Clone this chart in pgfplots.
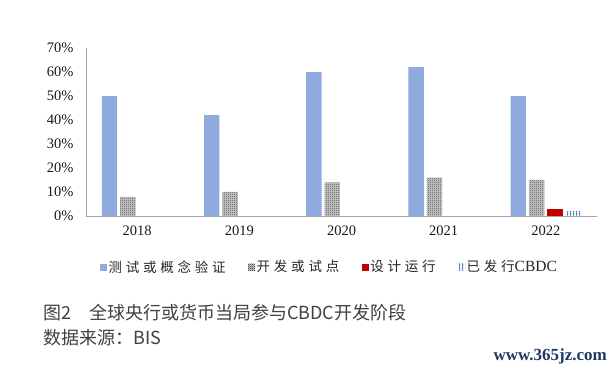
\documentclass[border=0pt]{standalone}
\usepackage{fontspec}
\setmainfont{Liberation Serif}
\newfontfamily\cjk{Noto Sans CJK SC}
\newfontfamily\cjkleg[LetterSpace=28]{Noto Sans CJK SC}
\usepackage{pgfplots}
\pgfplotsset{compat=1.18}
\usetikzlibrary{patterns}
\pgfdeclarepatternformonly{checker}{\pgfqpoint{0pt}{0pt}}{\pgfqpoint{2bp}{2bp}}{\pgfqpoint{2bp}{2bp}}{%
  \pgfpathrectangle{\pgfqpoint{0pt}{0pt}}{\pgfqpoint{1bp}{1bp}}%
  \pgfpathrectangle{\pgfqpoint{1bp}{1bp}}{\pgfqpoint{1bp}{1bp}}%
  \pgfusepath{fill}}
\pgfdeclarepatternformonly{vstripes}{\pgfqpoint{0pt}{0pt}}{\pgfqpoint{3bp}{3bp}}{\pgfqpoint{3bp}{3bp}}{%
  \pgfpathrectangle{\pgfqpoint{0pt}{0pt}}{\pgfqpoint{1.5bp}{3bp}}%
  \pgfusepath{fill}}
\definecolor{barblue}{RGB}{143,170,220}
\definecolor{barred}{RGB}{192,0,0}
\definecolor{stripe}{RGB}{68,114,196}
\definecolor{axgray}{RGB}{166,166,166}
\definecolor{capgray}{RGB}{64,64,64}
\definecolor{wmblue}{RGB}{31,56,100}
\begin{document}
\begin{tikzpicture}
\useasboundingbox (0,0) rectangle (615bp,371bp);
\begin{axis}[
  at={(86bp,155bp)}, anchor=south west,
  scale only axis, width=511bp, height=168bp,
  xmin=-0.5, xmax=4.5, ymin=0, ymax=70,
  axis lines*=left,
  axis line style={draw=axgray, line width=0.8bp},
  xtick={0,1,2,3,4}, xticklabels={2018,2019,2020,2021,2022},
  ytick={0,10,...,70},
  yticklabel={\pgfmathprintnumber{\tick}\%},
  /pgf/number format/assume math mode=true,
  major tick length=0pt,
  tick label style={font=\fontsize{14.5bp}{17bp}\selectfont, text=black!90},
  yticklabel style={xshift=-9bp},
  xticklabel style={yshift=-6bp},
  ybar, bar width=0.15,
  legend columns=4,
  legend style={at={(0.0274,-0.3036)}, anchor=west, draw=none, fill=none,
    inner sep=0pt, outer sep=0pt,
    font=\fontsize{13.5bp}{15bp}\selectfont,
    nodes={inner xsep=1.5bp, inner ysep=0pt, text=black!85},
    /tikz/every even column/.append style={column sep=21bp}},
  legend image code/.code={\draw[#1,draw=none] (0bp,-3.5bp) rectangle (7bp,3.5bp);},
]
\addplot[fill=gray!40, draw=none, bar shift=-0.09,
  postaction={pattern=checker, pattern color=black!70}, forget plot]
  coordinates {(0,8) (1,10) (2,14) (3,16) (4,15)};
\addplot[fill=barblue, draw=none, bar shift=-0.27]
  coordinates {(0,50) (1,42) (2,60) (3,62) (4,50)};
\addlegendentry{{\cjkleg 测试或概念验证}}
\addlegendimage{fill=gray!40, draw=none, postaction={pattern=checker, pattern color=black!70}}
\addlegendentry{{\cjkleg 开发或试点}}
\addplot[fill=barred, draw=none, bar shift=0.09]
  coordinates {(4,3)};
\addlegendentry{{\cjkleg 设计运行}}
\addplot[fill=white, draw=none, bar shift=0.27,
  postaction={pattern=vstripes, pattern color=stripe}]
  coordinates {(4,2)};
\addlegendentry{{\cjkleg 已发行}{\fontsize{15.5bp}{17bp}\selectfont CBDC}}
\end{axis}
\node[anchor=west, inner sep=0pt, text=capgray, font=\cjk\fontsize{18bp}{20bp}\selectfont] at (43bp,58bp) {图2　全球央行或货币当局参与CBDC开发阶段};
\node[anchor=west, inner sep=0pt, text=capgray, font=\cjk\fontsize{18bp}{20bp}\selectfont] at (43bp,33bp) {数据来源：BIS};
\node[anchor=east, inner sep=0pt, text=wmblue, font=\bfseries\fontsize{17bp}{19bp}\selectfont] at (607bp,15bp) {www.365jz.com};
\end{tikzpicture}
\end{document}
